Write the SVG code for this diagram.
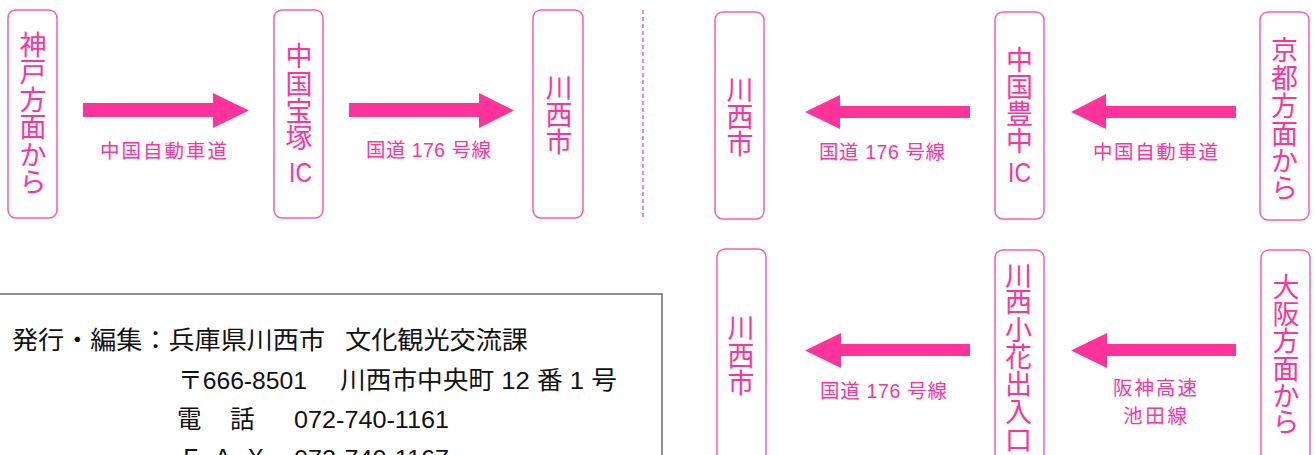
<svg xmlns="http://www.w3.org/2000/svg" width="1315" height="455" viewBox="0 0 1315 455">
<style>
.box{fill:#fff;stroke:#FF5BAE;stroke-width:1.5}
.nt{font-family:"Noto Sans CJK JP","Liberation Sans",sans-serif;font-size:27px;fill:#FF3399;text-anchor:middle}
.ic{font-family:"Liberation Sans","Noto Sans CJK JP",sans-serif;font-size:28px;fill:#FF3399}
.lb{font-family:"Liberation Sans","Noto Sans CJK JP",sans-serif;font-size:19.5px;fill:#FF3399}
.arr{fill:#FF3399}
.info{font-family:"Liberation Sans","Noto Sans CJK JP",sans-serif;font-size:24.5px;fill:#111}
</style>
<rect width="1315" height="455" fill="#fff"/>

<g id="node-kobe">
<rect class="box" x="8" y="10" width="49" height="208" rx="8"/>
<text class="nt"><tspan x="33" y="55">神</tspan><tspan x="33" y="82.4">戸</tspan><tspan x="33" y="109.8">方</tspan><tspan x="33" y="137.2">面</tspan><tspan x="33" y="164.6">か</tspan><tspan x="33" y="192">ら</tspan></text>
</g>
<g id="node-takarazuka-ic">
<rect class="box" x="274" y="10" width="49" height="208" rx="8"/>
<text class="nt"><tspan x="299" y="66">中</tspan><tspan x="299" y="94">国</tspan><tspan x="299" y="121">宝</tspan><tspan x="299" y="148">塚</tspan></text>
<text class="ic" x="289" y="182" textLength="23" lengthAdjust="spacingAndGlyphs">IC</text>
</g>
<g id="node-kawanishi-1">
<rect class="box" x="533" y="10" width="50" height="208" rx="8"/>
<text class="nt"><tspan x="559" y="97.5">川</tspan><tspan x="559" y="124.5">西</tspan><tspan x="559" y="152">市</tspan></text>
</g>

<g id="node-kawanishi-2">
<rect class="box" x="715" y="12" width="49" height="207" rx="8"/>
<text class="nt"><tspan x="740" y="100">川</tspan><tspan x="740" y="127">西</tspan><tspan x="740" y="154">市</tspan></text>
</g>
<g id="node-toyonaka-ic">
<rect class="box" x="995" y="12" width="49" height="207" rx="8"/>
<text class="nt"><tspan x="1019.5" y="69.5">中</tspan><tspan x="1019.5" y="96.5">国</tspan><tspan x="1019.5" y="123.5">豊</tspan><tspan x="1019.5" y="151">中</tspan></text>
<text class="ic" x="1008" y="182" textLength="23" lengthAdjust="spacingAndGlyphs">IC</text>
</g>
<g id="node-kyoto">
<rect class="box" x="1260" y="12" width="49" height="208" rx="8"/>
<text class="nt"><tspan x="1284.5" y="60">京</tspan><tspan x="1284.5" y="88">都</tspan><tspan x="1284.5" y="116">方</tspan><tspan x="1284.5" y="144">面</tspan><tspan x="1284.5" y="171">か</tspan><tspan x="1284.5" y="198">ら</tspan></text>
</g>

<g id="node-kawanishi-3">
<rect class="box" x="717" y="249" width="49" height="230" rx="8"/>
<text class="nt"><tspan x="741" y="337.5">川</tspan><tspan x="741" y="366">西</tspan><tspan x="741" y="393">市</tspan></text>
</g>
<g id="node-obana">
<rect class="box" x="995" y="250" width="49" height="230" rx="8"/>
<text class="nt"><tspan x="1018.5" y="286">川</tspan><tspan x="1018.5" y="312">西</tspan><tspan x="1018.5" y="340">小</tspan><tspan x="1018.5" y="367">花</tspan><tspan x="1018.5" y="394">出</tspan><tspan x="1018.5" y="422">入</tspan><tspan x="1018.5" y="450">口</tspan></text>
</g>
<g id="node-osaka">
<rect class="box" x="1261" y="250" width="49" height="230" rx="8"/>
<text class="nt"><tspan x="1286" y="297">大</tspan><tspan x="1286" y="324">阪</tspan><tspan x="1286" y="351">方</tspan><tspan x="1286" y="379">面</tspan><tspan x="1286" y="406">か</tspan><tspan x="1286" y="432">ら</tspan></text>
</g>

<g id="connectors">
<polygon class="arr" points="83,103 213,103 213,93 249,110.5 213,128 213,117 83,117"/>
<polygon class="arr" points="349,103 479,103 479,93 514,110.5 479,128 479,117 349,117"/>
<polygon class="arr" points="970,106 840,106 840,95 805,112 840,129 840,118 970,118"/>
<polygon class="arr" points="1236,106 1106,106 1106,94 1071,112 1106,129 1106,118 1236,118"/>
<polygon class="arr" points="970,344 841,344 841,333 805,350.5 841,368 841,356 970,356"/>
<polygon class="arr" points="1236,344 1107,344 1107,333 1071,350.5 1107,368 1107,356 1236,356"/>
<text class="lb" x="100" y="158" textLength="127" lengthAdjust="spacing">中国自動車道</text>
<text class="lb" x="366" y="156.5" textLength="125" lengthAdjust="spacing">国道 176 号線</text>
<text class="lb" x="819" y="159" textLength="126" lengthAdjust="spacing">国道 176 号線</text>
<text class="lb" x="1093" y="158.5" textLength="125" lengthAdjust="spacing">中国自動車道</text>
<text class="lb" x="820" y="398" textLength="127" lengthAdjust="spacing">国道 176 号線</text>
<text class="lb" x="1113" y="395" textLength="84" lengthAdjust="spacing">阪神高速</text>
<text class="lb" x="1123" y="423" textLength="64" lengthAdjust="spacing">池田線</text>
</g>

<line x1="643" y1="10" x2="643" y2="218" stroke="#FF5BAE" stroke-width="1.5" stroke-dasharray="4 3"/>

<g id="info">
<rect x="-5" y="294" width="667" height="200" fill="none" stroke="#555" stroke-width="1.3"/>
<text class="info" y="349"><tspan x="12" textLength="313" lengthAdjust="spacingAndGlyphs">発行・編集：兵庫県川西市</tspan><tspan x="345" textLength="183" lengthAdjust="spacingAndGlyphs">文化観光交流課</tspan></text>
<text class="info" y="389"><tspan x="178" textLength="129" lengthAdjust="spacingAndGlyphs">〒666-8501</tspan><tspan x="340" textLength="277" lengthAdjust="spacingAndGlyphs">川西市中央町 12 番 1 号</tspan></text>
<text class="info" y="428"><tspan x="177">電</tspan><tspan x="230">話</tspan><tspan x="294" textLength="155" lengthAdjust="spacingAndGlyphs">072-740-1161</tspan></text>
<text class="info" y="467"><tspan x="178" textLength="90" lengthAdjust="spacing">ＦＡＸ</tspan><tspan x="294" textLength="155" lengthAdjust="spacingAndGlyphs">072-740-1167</tspan></text>
</g>
</svg>
